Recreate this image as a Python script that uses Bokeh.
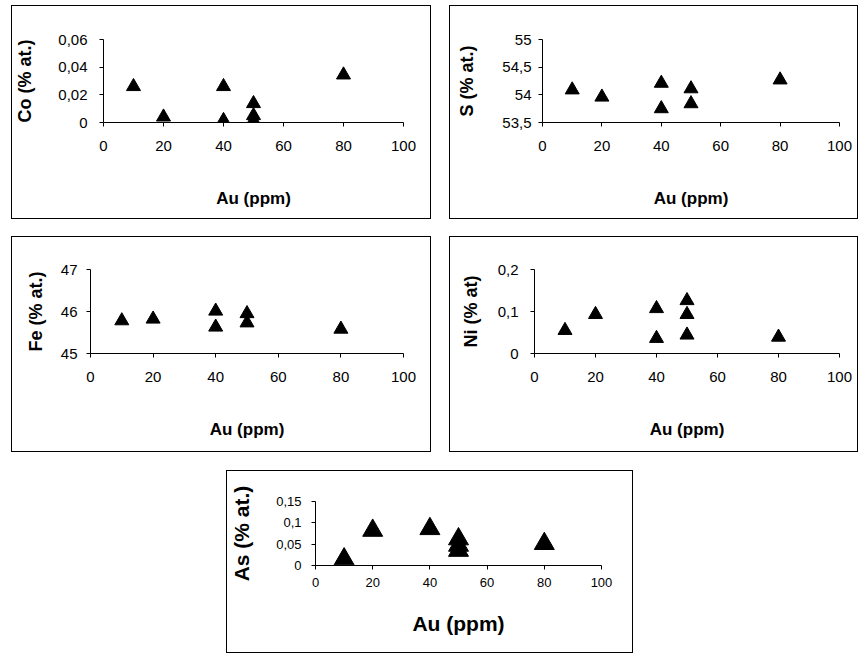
from bokeh.plotting import figure
from bokeh.layouts import column, row
from bokeh.models import Spacer, FixedTicker, Range1d
from bokeh.embed import file_html
from bokeh.resources import INLINE

# ---- data ----
x_ticks = [0, 20, 40, 60, 80, 100]

co_au = [10, 20, 40, 40, 50, 50, 50, 80]
co_val = [0.026, 0.004, 0.026, 0.0015, 0.0137, 0.005, 0.0015, 0.0344]
co_ticks = [0, 0.02, 0.04, 0.06]
co_labels = ["0", "0,02", "0,04", "0,06"]

s_au = [10, 20, 40, 40, 50, 50, 80]
s_val = [54.09, 53.96, 54.21, 53.75, 54.11, 53.84, 54.27]
s_ticks = [53.5, 54, 54.5, 55]
s_labels = ["53,5", "54", "54,5", "55"]

fe_au = [10, 20, 40, 40, 50, 50, 80]
fe_val = [45.78, 45.82, 46.01, 45.63, 45.95, 45.73, 45.58]
fe_ticks = [45, 46, 47]
fe_labels = ["45", "46", "47"]

ni_au = [10, 20, 40, 40, 50, 50, 50, 80]
ni_val = [0.055, 0.093, 0.107, 0.036, 0.126, 0.093, 0.044, 0.039]
ni_ticks = [0, 0.1, 0.2]
ni_labels = ["0", "0,1", "0,2"]

as_au = [10, 20, 40, 50, 50, 50, 80]
as_val = [0.015, 0.082, 0.086, 0.062, 0.047, 0.035, 0.051]
as_ticks = [0, 0.05, 0.1, 0.15]
as_labels = ["0", "0,05", "0,1", "0,15"]

FONT = "Liberation Sans"


def panel(xs, ys, yticks, ylabels, ytitle, w, h, bl, br, bt, bb,
          tick_fs, ytitle_fs, xtitle_fs, msize, xlab_so, ylab_so, xstand, ystand):
    p = figure(width=w, height=h, output_backend="svg", toolbar_location=None,
               x_range=Range1d(0, 100), y_range=Range1d(yticks[0], yticks[-1]),
               min_border_left=bl, min_border_right=br,
               min_border_top=bt, min_border_bottom=bb,
               styles={"border": "1px solid black", "box-sizing": "border-box"})
    p.outline_line_color = None
    p.grid.visible = False
    p.background_fill_color = "white"
    p.border_fill_color = "white"
    p.triangle(xs, ys, size=msize, color="black")
    for ax in (p.xaxis[0], p.yaxis[0]):
        ax.axis_line_color = "black"
        ax.major_tick_line_color = "black"
        ax.minor_tick_line_color = None
        ax.major_tick_in = 0
        ax.major_tick_out = 4
        ax.major_label_text_font = FONT
        ax.major_label_text_font_size = f"{tick_fs}px"
        ax.major_label_text_color = "black"
        ax.axis_label_text_font = FONT
        ax.axis_label_text_font_style = "bold"
        ax.axis_label_text_color = "black"
    p.xaxis[0].ticker = FixedTicker(ticks=x_ticks)
    p.yaxis[0].ticker = FixedTicker(ticks=yticks)
    p.yaxis[0].major_label_overrides = {t: l for t, l in zip(yticks, ylabels)}
    p.xaxis[0].axis_label = "Au (ppm)"
    p.yaxis[0].axis_label = ytitle
    p.xaxis[0].axis_label_text_font_size = f"{xtitle_fs}px"
    p.yaxis[0].axis_label_text_font_size = f"{ytitle_fs}px"
    p.xaxis[0].major_label_standoff = xlab_so
    p.yaxis[0].major_label_standoff = ylab_so
    p.xaxis[0].axis_label_standoff = xstand
    p.yaxis[0].axis_label_standoff = ystand
    return p


p1 = panel(co_au, co_val, co_ticks, co_labels, "Co (% at.)", 420, 214, 91, 29, 33, 98,
           15, 18, 17, 14, 14, 12, 35, 20)
p2 = panel(s_au, s_val, s_ticks, s_labels, "S (% at.)", 409, 214, 92, 20, 33, 98,
           15, 18, 17, 14, 14, 7, 35, 22)
p3 = panel(fe_au, fe_val, fe_ticks, fe_labels, "Fe (% at.)", 420, 216, 78, 29, 32, 100,
           15, 18, 17, 14, 14, 9, 35, 12)
p4 = panel(ni_au, ni_val, ni_ticks, ni_labels, "Ni (% at)", 409, 216, 84, 20, 32, 100,
           15, 18, 17, 14, 14, 12, 35, 14)
p5 = panel(as_au, as_val, as_ticks, as_labels, "As (% at.)", 407, 183, 88, 33, 30, 89,
           13, 21, 21, 20, 8, 10, 22, 20)

layout = column(
    row(p1, Spacer(width=18), p2),
    Spacer(height=17),
    row(p3, Spacer(width=18), p4),
    Spacer(height=18),
    row(Spacer(width=215), p5),
    styles={"margin-left": "11px", "margin-top": "5px"},
)

open("out.html", "w").write(file_html(layout, INLINE))
